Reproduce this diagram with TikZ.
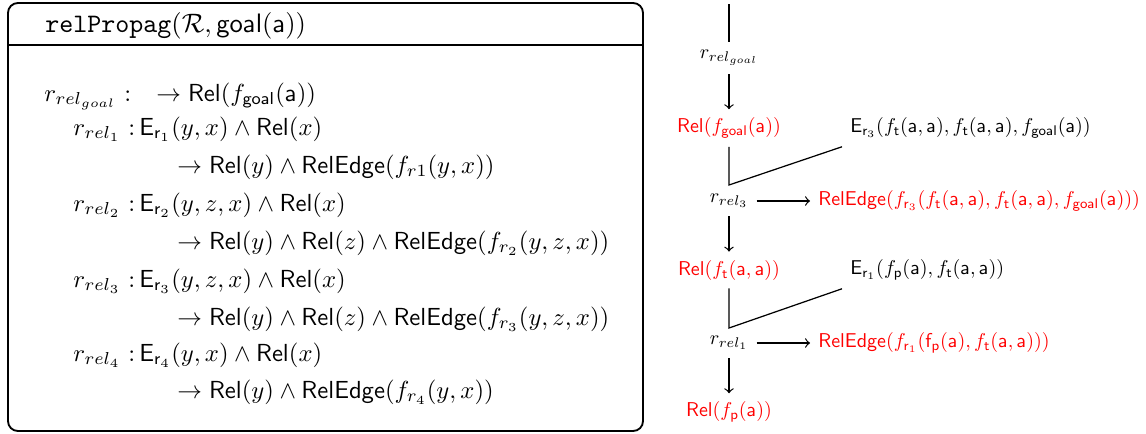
\documentclass[tikz,border=0pt]{standalone}
\usepackage{amsmath}
\usepackage{graphicx}
\newcommand{\msf}[1]{\mathsf{#1}}
\newcommand{\myRel}{\msf{Rel}}
\newcommand{\myRE}{\msf{RelEdge}}
\newcommand{\myE}[1]{\msf{E}_{\msf{r}_{#1}}}
\newcommand{\fa}{\msf{a}}
\newcommand{\ftt}{f_{\msf{t}}(\fa,\fa)}
\newcommand{\fgg}{f_{\msf{goal}}(\fa)}
\newcommand{\fpp}{f_{\msf{p}}(\fa)}
\newcommand{\rsc}[1]{\scalebox{0.81}{#1}}
\begin{document}
\begin{tikzpicture}[x=0.405pt,y=-0.405pt,
  frame/.style={line width=0.75pt},
  txt/.style={anchor=base west, inner sep=0pt},
  lab/.style={inner sep=3.2pt},
  hl/.style={text=red},
  con/.style={line width=0.5pt},
  arr/.style={con,->}]
\useasboundingbox (0,0) rectangle (1146,433);
% left box
\draw[frame, rounded corners=4pt] (8,3) rectangle (643,431);
\draw[frame] (8,45) -- (643,45);
\node[txt] (title) at (45,32) {\scalebox{1.08}{\texttt{relPropag}$(\mathcal{R},\msf{goal}(\fa))$}};
% row 0
\node[txt] (g0) at (44,101) {$r_{rel_{goal}}$};
\node[txt] (g0c) at (124,101) {:};
\node[txt] (g0b) at (156,101) {$\to\myRel(\fgg)$};
% rows 1-4
\node[txt] (a1) at (73,135) {$r_{rel_1}$};
\node[txt] (a1c) at (128,135) {:\,$\myE{1}(y,x)\wedge\myRel(x)$};
\node[txt] (b1) at (177,173) {$\to\myRel(y)\wedge\myRE(f_{r1}(y,x))$};
\node[txt] (a2) at (73,211) {$r_{rel_2}$};
\node[txt] (a2c) at (128,211) {:\,$\myE{2}(y,z,x)\wedge\myRel(x)$};
\node[txt] (b2) at (177,249) {$\to\myRel(y)\wedge\myRel(z)\wedge\myRE(f_{r_2}(y,z,x))$};
\node[txt] (a3) at (73,287) {$r_{rel_3}$};
\node[txt] (a3c) at (128,287) {:\,$\myE{3}(y,z,x)\wedge\myRel(x)$};
\node[txt] (b3) at (177,325) {$\to\myRel(y)\wedge\myRel(z)\wedge\myRE(f_{r_3}(y,z,x))$};
\node[txt] (a4) at (73,361) {$r_{rel_4}$};
\node[txt] (a4c) at (128,361) {:\,$\myE{4}(y,x)\wedge\myRel(x)$};
\node[txt] (b4) at (177,398) {$\to\myRel(y)\wedge\myRE(f_{r_4}(y,x))$};
% right tree
\coordinate (top) at (729,4);
\node[lab] (rg) at (729,58) {\rsc{$r_{rel_{goal}}$}};
\node[lab,hl] (Rg) at (729,128) {\rsc{$\myRel(\fgg)$}};
\node[lab,anchor=west] (E3) at (842,128) {\rsc{$\myE{3}(\ftt,\ftt,\fgg)$}};
\coordinate (c3) at (729,185);
\node[lab] (r3) at (729,201) {\rsc{$r_{rel_3}$}};
\node[lab,hl,anchor=west] (RE3) at (810,201) {\rsc{$\myRE(f_{\msf{r}_3}(\ftt,\ftt,\fgg))$}};
\node[lab,hl] (Rt) at (729,270) {\rsc{$\myRel(\ftt)$}};
\node[lab,anchor=west] (E1) at (842,270) {\rsc{$\myE{1}(\fpp,\ftt)$}};
\coordinate (c1) at (729,328);
\node[lab] (r1) at (729,343) {\rsc{$r_{rel_1}$}};
\node[lab,hl,anchor=west] (RE1) at (810,343) {\rsc{$\myRE(f_{\msf{r}_1}(\msf{f}_{\msf{p}}(\fa),\ftt))$}};
\node[lab,hl] (Rp) at (729,412) {\rsc{$\myRel(\fpp)$}};
\draw[con] (top) -- (rg);
\draw[arr] (rg) -- (Rg);
\draw[con] (Rg) -- (c3) -- (E3.south west);
\draw[arr] (r3) -- (RE3);
\draw[arr] (r3) -- (Rt);
\draw[con] (Rt) -- (c1) -- (E1.south west);
\draw[arr] (r1) -- (RE1);
\draw[arr] (r1) -- (Rp);
\end{tikzpicture}
\end{document}
